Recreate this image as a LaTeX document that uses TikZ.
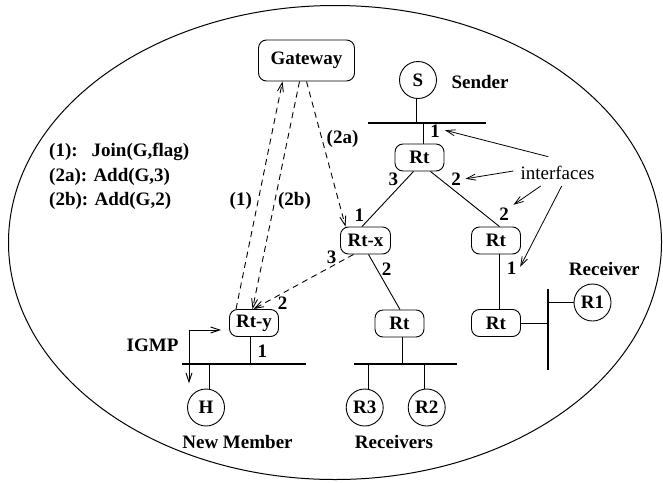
\documentclass[tikz,border=0pt]{standalone}
\usepackage{fontspec}
\setmainfont{Liberation Serif}
\usetikzlibrary{arrows.meta}
\begin{document}
\begin{tikzpicture}[x=1pt,y=-1pt,
  every node/.style={font=\fontsize{19}{22}\selectfont\bfseries, inner sep=0pt},
  rbox/.style={draw, rounded corners=8pt, minimum width=49pt, minimum height=27pt, line width=0.9pt},
  host/.style={draw, circle, minimum size=37pt, line width=0.9pt},
  link/.style={line width=0.9pt},
  bus/.style={line width=1.6pt},
  barb/.style={-{Straight Barb[length=9pt,width=6pt]}},
  msg/.style={line width=0.9pt, dash pattern=on 6pt off 4.5pt, barb},
  iface/.style={line width=0.8pt, barb},
  plain/.style={font=\fontsize{19}{22}\selectfont\mdseries},
]
\useasboundingbox (0,0) rectangle (663,482);
\draw[line width=1pt] (335,242.5) ellipse [x radius=326.5pt, y radius=237pt];

% nodes
\node[rbox, minimum width=96pt, minimum height=41pt] (gw) at (306.5,60.5) {Gateway};
\node[host] (S) at (418,80) {S};
\node (snd) at (480,82) {Sender};
\node[rbox] (rt1) at (419.5,157.5) {Rt};
\node[rbox, minimum width=50pt] (rtx) at (365.5,240.5) {Rt-x};
\node[rbox] (rt2) at (496,240.5) {Rt};
\node[rbox] (rty) at (254,323) {Rt-y};
\node[rbox] (rt3) at (399.5,323.5) {Rt};
\node[rbox] (rt4) at (496,323) {Rt};
\node[host] (H) at (206,407.5) {H};
\node[host] (R3) at (364.7,407.5) {R3};
\node[host] (R2) at (426.7,407.5) {R2};
\node[host] (R1) at (592.5,302.5) {R1};

% texts
\node (nm) at (237.5,442) {New Member};
\node (rcv) at (394,442) {Receivers};
\node (rcv1) at (604.3,269) {Receiver};
\node (igmp) at (152.5,345) {IGMP};
\node[plain] (ifc) at (557.5,172.7) {interfaces};

\node[anchor=west] (lg1) at (49,152) {(1):\hspace{14pt}Join(G,flag)};
\node[anchor=west] (lg2) at (49,176.5) {(2a): Add(G,3)};
\node[anchor=west] (lg3) at (49,201) {(2b): Add(G,2)};

\node (m2a) at (342.5,138.5) {(2a)};
\node (m1) at (240.8,201) {(1)};
\node (m2b) at (294.5,201) {(2b)};

\node (i1) at (435,131.7) {1};
\node (i3a) at (393.3,179.3) {3};
\node (i2a) at (456,179.3) {2};
\node (i1x) at (359.3,215) {1};
\node (i2r) at (504,214.3) {2};
\node (i3x) at (331.7,257) {3};
\node (i2x) at (386.7,269.3) {2};
\node (i1r) at (511.7,268.3) {1};
\node (i2y) at (282.7,303.3) {2};
\node (i1y) at (262.3,351.7) {1};

% buses
\coordinate (sbl) at (368,123); \coordinate (sbr) at (486,123);
\coordinate (nbl) at (182,364); \coordinate (nbr) at (306,364);
\coordinate (rbl) at (354,364); \coordinate (rbr) at (457,364);
\coordinate (vbt) at (547.7,289.3); \coordinate (vbb) at (547.7,370);
\draw[bus] (sbl) -- (sbr);
\draw[bus] (nbl) -- (nbr);
\draw[bus] (rbl) -- (rbr);
\draw[bus] (vbt) -- (vbb);

% links
\draw[link] ([xshift=-1.5pt]S.south) -- ([xshift=-1.5pt]S.south |- sbl);
\draw[link] ([xshift=3.5pt]rt1.north) -- ([xshift=3.5pt]rt1.north |- sbl);
\draw[link] ([xshift=-6pt]rt1.south) -- ([xshift=-3.5pt]rtx.north);
\draw[link] ([xshift=11pt]rt1.south) -- ([xshift=3.5pt]rt2.north);
\draw[link] ([xshift=3pt]rtx.south) -- ([xshift=0.5pt]rt3.north);
\draw[link] ([xshift=3.3pt]rt2.south) -- ([xshift=3.3pt]rt4.north);
\draw[link] ([xshift=3.2pt]rt3.south) -- ([xshift=3.2pt]rt3.south |- rbl);
\draw[link] ([xshift=-3.3pt]rty.south) -- ([xshift=-3.3pt]rty.south |- nbl);
\draw[link] (rt4.east) -- (rt4.east -| vbt);
\draw[link] (R1.west) -- (R1.west -| vbt);
\draw[link] ([xshift=3pt]H.north) -- ([xshift=3pt]H.north |- nbl);
\draw[link] ([xshift=3.6pt]R3.north) -- ([xshift=3.6pt]R3.north |- rbl);
\draw[link] ([xshift=-2.7pt]R2.north) -- ([xshift=-2.7pt]R2.north |- rbl);

% IGMP
\coordinate (igd) at (189,383.3);
\draw[link, {Straight Barb[length=9pt,width=6pt]}-{Straight Barb[length=9pt,width=6pt]}] (igd) |- ([xshift=-8pt,yshift=-7pt]rty.west);

% messages
\draw[msg] ([xshift=-18pt]rty.north) -- ([xshift=-24pt]gw.south);
\draw[msg] ([xshift=-7pt]gw.south) -- ([xshift=-1.5pt]rty.north);
\draw[msg] (gw.south) -- ([xshift=-20pt]rtx.north);
\draw[msg] ([xshift=-12pt]rtx.south) -- ([xshift=-0.5pt]rty.north);

% interface arrows
\coordinate (a1s) at (548.3,156.7);
\coordinate (a2s) at (513.3,171);
\coordinate (a3s) at (540.7,186);
\coordinate (a4s) at (561.7,186);
\draw[iface] (a1s) -- ([xshift=5pt,yshift=1.5pt]i1.east);
\draw[iface] (a2s) -- ([xshift=4.5pt,yshift=0.5pt]i2a.east);
\draw[iface] (a3s) -- ([xshift=4.5pt,yshift=3pt]i2r.north east);
\draw[iface] (a4s) -- ([xshift=3.5pt,yshift=1.5pt]i1r.east);
\end{tikzpicture}
\end{document}
